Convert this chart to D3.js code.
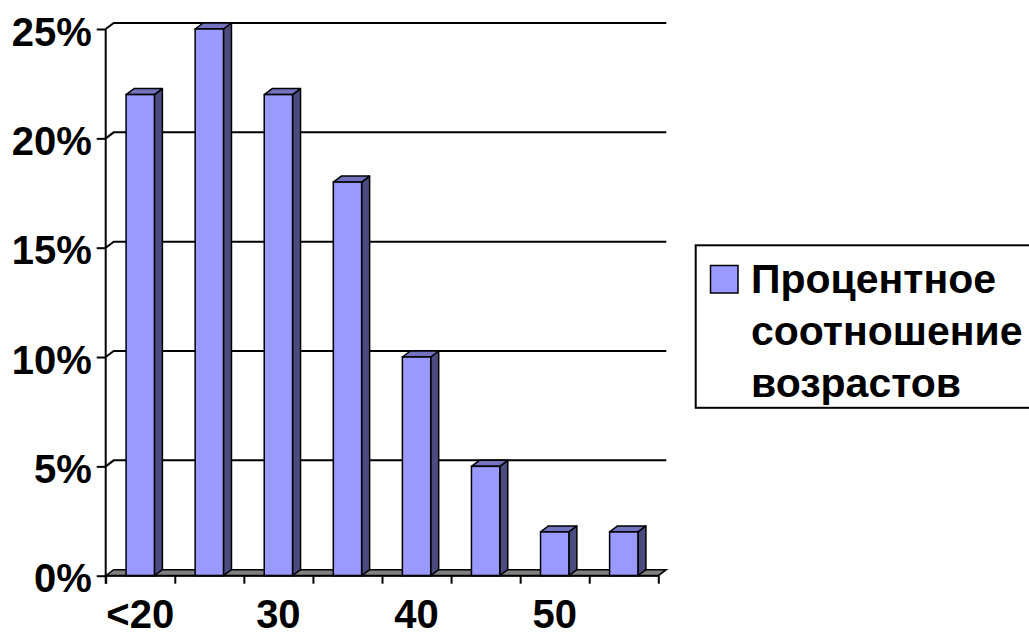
<!DOCTYPE html>
<html>
<head>
<meta charset="utf-8">
<script src="https://cdn.jsdelivr.net/npm/d3@7/dist/d3.min.js"></script>
<style>
  html, body { margin: 0; padding: 0; background: #ffffff; }
  svg { display: block; }
  text { font-family: "Liberation Sans", Arial, sans-serif; font-weight: bold; fill: #000; }
</style>
</head>
<body>
<svg id="chart" width="1029" height="637"></svg>
<script>
// Age groups (one bar each) and their share of the total
const categories = ["<20", "20-25", "25-30", "30-35", "35-40", "40-45", "45-50", "50+"];
const shares = [0.22, 0.25, 0.22, 0.18, 0.10, 0.05, 0.02, 0.02];
// Only every other group carries a label on the axis
const tickLabels = ["<20", "", "30", "", "40", "", "50", ""];
const yTicks = [0, 0.05, 0.10, 0.15, 0.20, 0.25];
const legendLines = ["Процентное", "соотношение", "возрастов"];

const svg = d3.select("#chart");

const x0 = 105.7, x1 = 658.3;     // front edge of the floor
const yBase = 575.7, yTop = 29;   // 0% and 25% on the front plane
const depth = { dx: 8, dy: -6 };  // offset to the back wall

const x = d3.scaleBand().domain(categories).range([x0, x1]).padding(0);
const xEdge = d3.scaleLinear().domain([0, categories.length]).range([x0, x1]);
const y = d3.scaleLinear().domain([0, 0.25]).range([yBase, yTop]);

const barW = x.bandwidth() * 0.41;

const colors = { front: "#9999ff", top: "#7272bd", side: "#4b4b80", floor: "#808080" };

// Back-wall gridlines, each joined to its front tick by a short diagonal
const grid = svg.append("g");
yTicks.filter(v => v > 0).forEach(v => {
  grid.append("path")
    .attr("d", `M${x0},${y(v)} L${x0 + depth.dx},${y(v) + depth.dy} L${x1 + depth.dx},${y(v) + depth.dy}`)
    .attr("fill", "none").attr("stroke", "#000").attr("stroke-width", 2);
});

// Floor
svg.append("path")
  .attr("d", `M${x0},${yBase} L${x1},${yBase} L${x1 + depth.dx},${yBase + depth.dy} L${x0 + depth.dx},${yBase + depth.dy} Z`)
  .attr("fill", colors.floor).attr("stroke", "#000").attr("stroke-width", 1.5);

// 3D columns
const bars = svg.append("g").selectAll("g").data(categories).join("g");
bars.each(function (c, i) {
  const g = d3.select(this);
  const bx = x(c) + (x.bandwidth() - barW) / 2;
  const by = y(shares[i]);
  const { dx, dy } = depth;
  g.append("path")
    .attr("d", `M${bx + barW},${by} L${bx + barW + dx},${by + dy} L${bx + barW + dx},${yBase + dy} L${bx + barW},${yBase} Z`)
    .attr("fill", colors.side).attr("stroke", "#000").attr("stroke-width", 1.5).attr("stroke-linejoin", "round");
  g.append("path")
    .attr("d", `M${bx},${by} L${bx + dx},${by + dy} L${bx + barW + dx},${by + dy} L${bx + barW},${by} Z`)
    .attr("fill", colors.top).attr("stroke", "#000").attr("stroke-width", 1.5).attr("stroke-linejoin", "round");
  g.append("rect")
    .attr("x", bx).attr("y", by).attr("width", barW).attr("height", yBase - by)
    .attr("fill", colors.front).attr("stroke", "#000").attr("stroke-width", 1.5);
});

// Value axis
const yAxis = svg.append("g")
  .attr("transform", `translate(${x0},0)`)
  .call(d3.axisLeft(y).tickValues(yTicks).tickSize(9).tickPadding(5)
    .tickFormat(d3.format(".0%")));
yAxis.select(".domain").attr("d", `M0,${yTop}V${yBase + 8}`).attr("stroke-width", 2);
yAxis.selectAll(".tick line").attr("stroke-width", 2);
yAxis.selectAll(".tick text")
  .attr("dy", "0.4em")
  .style("font-family", '"Liberation Sans", Arial, sans-serif')
  .style("font-weight", "bold").style("font-size", "40px");

// Category axis: ticks on the group boundaries
const xAxis = svg.append("g")
  .attr("transform", `translate(0,${yBase})`)
  .call(d3.axisBottom(xEdge).tickValues(d3.range(categories.length + 1)).tickSize(8).tickFormat(""));
xAxis.select(".domain").attr("d", `M${x0},0H${x1}`).attr("stroke-width", 2);
xAxis.selectAll(".tick line").attr("stroke-width", 2);

// Category labels centred in their groups
svg.append("g").selectAll("text").data(categories).join("text")
  .attr("x", c => x(c) + x.bandwidth() / 2)
  .attr("y", 628)
  .attr("text-anchor", "middle")
  .style("font-size", "40px")
  .text((c, i) => tickLabels[i]);

// Legend
const legend = svg.append("g");
legend.append("rect")
  .attr("x", 695.7).attr("y", 245.3).attr("width", 360).attr("height", 162.5)
  .attr("fill", "#fff").attr("stroke", "#000").attr("stroke-width", 2);
legend.append("rect")
  .attr("x", 710.5).attr("y", 265.5).attr("width", 27.5).attr("height", 27.5)
  .attr("fill", colors.front).attr("stroke", "#000").attr("stroke-width", 1.5);
legend.selectAll("text.line").data(legendLines).join("text")
  .attr("class", "line")
  .attr("x", 751)
  .attr("y", (d, i) => 293 + i * 52)
  .style("font-size", "41px")
  .text(d => d);
</script>
</body>
</html>
